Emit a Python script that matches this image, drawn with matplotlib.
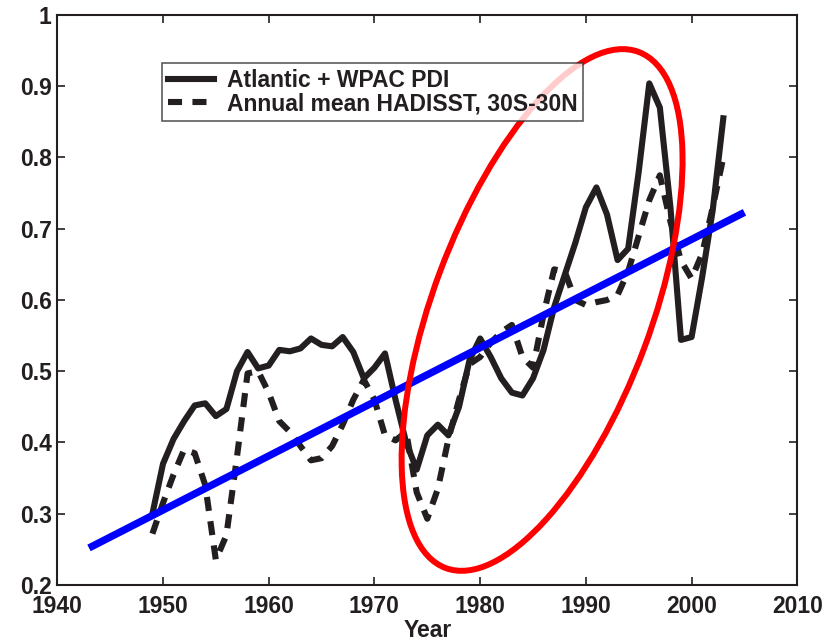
import numpy as np
import matplotlib
matplotlib.use("Agg")
import matplotlib.pyplot as plt
from matplotlib.patches import Ellipse
import matplotlib.transforms as mtransforms

plt.rcParams['font.family'] = ['Liberation Sans', 'DejaVu Sans']
plt.rcParams['font.weight'] = 'bold'

# data
years = list(range(1949, 2004))
pdi = [0.30, 0.37, 0.405, 0.43, 0.452, 0.455, 0.437, 0.447, 0.50, 0.527,
       0.504, 0.508, 0.53, 0.528, 0.532, 0.546, 0.537, 0.535, 0.548, 0.527,
       0.49, 0.505, 0.525, 0.46, 0.40, 0.362, 0.41, 0.425, 0.41, 0.45,
       0.516, 0.546, 0.52, 0.49, 0.47, 0.466, 0.49, 0.53, 0.59, 0.635,
       0.68, 0.73, 0.758, 0.72, 0.656, 0.672, 0.78, 0.904, 0.87, 0.73,
       0.544, 0.548, 0.632, 0.726, 0.855]
sst = [0.272, 0.315, 0.355, 0.39, 0.385, 0.34, 0.235, 0.27, 0.38, 0.497,
       0.50, 0.47, 0.43, 0.415, 0.395, 0.375, 0.378, 0.395, 0.425, 0.46,
       0.488, 0.46, 0.41, 0.403, 0.415, 0.33, 0.293, 0.335, 0.405, 0.46,
       0.51, 0.52, 0.54, 0.555, 0.565, 0.52, 0.505, 0.58, 0.643, 0.64,
       0.60, 0.593, 0.597, 0.60, 0.607, 0.64, 0.69, 0.74, 0.775, 0.71,
       0.655, 0.63, 0.665, 0.73, 0.80]
trend_years = [1943, 2005]
trend_vals = [0.252, 0.723]

legend_labels = ['Atlantic + WPAC PDI', 'Annual mean HADISST, 30S-30N']
xticks = [1940, 1950, 1960, 1970, 1980, 1990, 2000, 2010]
yticks = [0.2, 0.3, 0.4, 0.5, 0.6, 0.7, 0.8, 0.9, 1.0]
ytick_labels = ['0.2', '0.3', '0.4', '0.5', '0.6', '0.7', '0.8', '0.9', '1']

# highlight ellipse (center in data units, size in pixels)
ell_center = (1985.86, 0.586)
ell_w, ell_h, ell_angle = 551, 218, 69.5

fs = 16.5

fig = plt.figure(figsize=(8.36, 6.43), dpi=100)
ax = fig.add_axes([0.0685, 0.0902, 0.8852, 0.8865])

line_col = '#231f20'
ax.plot(years, pdi, color=line_col, lw=4.4, solid_joinstyle='round',
        label=legend_labels[0], zorder=3)
ax.plot(years, sst, color=line_col, lw=4.4, dashes=(2.3, 1.7),
        dash_capstyle='butt', label=legend_labels[1], zorder=3)
ax.plot(trend_years, trend_vals, color='#0000ff', lw=5.3,
        solid_capstyle='butt', zorder=4)

trans = mtransforms.Affine2D() + mtransforms.ScaledTranslation(
    ell_center[0], ell_center[1], ax.transData)
ell = Ellipse((0, 0), ell_w, ell_h, angle=ell_angle, transform=trans,
              fill=False, edgecolor='#ff0000', lw=4.3, zorder=5)
ax.add_patch(ell)

ax.set_xlim(1940, 2010)
ax.set_ylim(0.2, 1.0)
ax.set_xticks(xticks)
ax.set_yticks(yticks)
ax.set_yticklabels(ytick_labels)
ax.tick_params(direction='in', length=5.5, width=1.2, top=True, right=True,
               labelsize=fs, colors='#231f20')
ax.tick_params(axis='x', pad=7.5)
ax.tick_params(axis='y', pad=4)
for sp in ax.spines.values():
    sp.set_linewidth(1.5)
    sp.set_color('#231f20')

ax.set_xlabel('Year', fontsize=fs, fontweight='bold', labelpad=0.5,
              color='#231f20')

leg = ax.legend(loc='upper left', bbox_to_anchor=(0.1415, 0.9158),
                fontsize=fs, frameon=True, fancybox=False,
                handlelength=2.0, handletextpad=0.57, labelspacing=0.02,
                borderpad=0.25, borderaxespad=0)
leg.get_frame().set_edgecolor('#333333')
leg.get_frame().set_linewidth(1.2)
for t in leg.get_texts():
    t.set_color('#231f20')
leg.set_zorder(6)

fig.savefig('out.png', dpi=100)
